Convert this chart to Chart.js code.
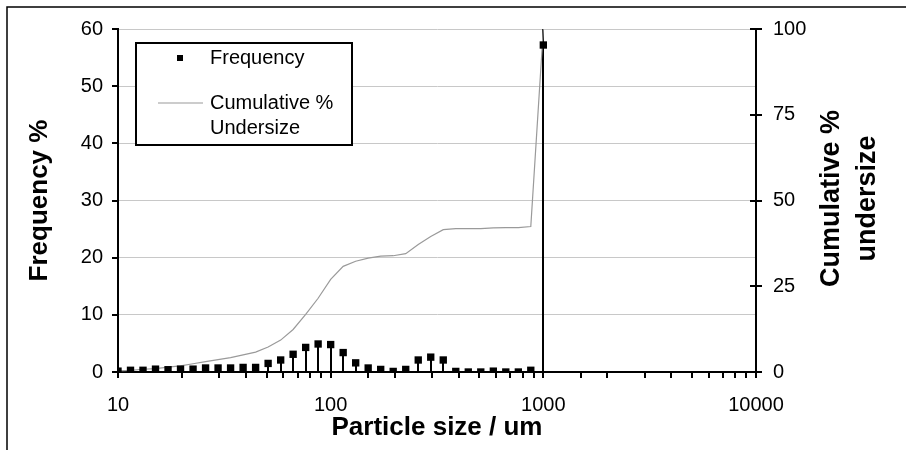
<!DOCTYPE html>
<html><head><meta charset="utf-8">
<script src="https://cdn.jsdelivr.net/npm/chart.js@4/dist/chart.umd.min.js"></script>
<style>html,body{margin:0;padding:0;background:#fff;}#wrap{width:906px;height:450px;}</style>
</head><body><div id="wrap"><canvas id="c" width="906" height="450"></canvas></div>
<script>
// ---- data ----
const particleSizes = [10.0, 11.45, 13.11, 15.01, 17.19, 19.68, 22.54, 25.81, 29.55, 33.84, 38.75, 44.37, 50.8, 58.2, 66.6, 76.3, 87.3, 100, 114.5, 131.1, 150.1, 171.9, 196.8, 225.4, 258.1, 295.5, 338.4, 387.5, 443.7, 508, 582, 666, 763, 873, 1000];
const frequencyPct = [0.15, 0.3, 0.3, 0.5, 0.4, 0.5, 0.5, 0.7, 0.7, 0.7, 0.8, 0.8, 1.5, 2.1, 3.1, 4.3, 4.9, 4.8, 3.4, 1.6, 0.7, 0.45, 0.1, 0.45, 2.1, 2.6, 2.1, 0.1, 0.0, 0.0, 0.15, 0.0, 0.0, 0.3, 57.2];
const cumulativePct = [0.3, 0.5, 0.8, 1.0, 1.4, 1.8, 2.4, 3.0, 3.6, 4.2, 5.0, 5.8, 7.3, 9.3, 12.4, 16.8, 21.5, 27.0, 30.8, 32.3, 33.2, 33.8, 33.9, 34.5, 37.2, 39.5, 41.5, 41.8, 41.8, 41.8, 42.0, 42.1, 42.1, 42.4, 100];
const fullHeightDropAt = [1000];
const xTickLabels = [10, 100, 1000, 10000];
const seriesNames = ['Frequency', ['Cumulative %', 'Undersize']];
const axisTitles = { x: 'Particle size / um', y: 'Frequency %', y2: ['Cumulative %', 'undersize'] };

const FONT = '"Liberation Sans", Arial, Helvetica, sans-serif';

const decor = {
  id: 'decor',
  beforeDraw(chart) {
    const ctx = chart.ctx;
    ctx.save();
    ctx.fillStyle = '#fff';
    ctx.fillRect(0, 0, chart.width, chart.height);
    ctx.restore();
  },
  beforeDatasetsDraw(chart) {
    const ctx = chart.ctx;
    const xs = chart.scales.x, ys = chart.scales.y;
    const meta = chart.getDatasetMeta(0);
    const y0 = ys.getPixelForValue(0);
    ctx.save();
    ctx.strokeStyle = '#000';
    ctx.lineWidth = 2;
    meta.data.forEach(p => {
      ctx.beginPath();
      ctx.moveTo(Math.round(p.x), p.y);
      ctx.lineTo(Math.round(p.x), y0);
      ctx.stroke();
    });
    fullHeightDropAt.forEach(v => {
      const px = Math.round(xs.getPixelForValue(v));
      ctx.beginPath();
      ctx.moveTo(px, ys.getPixelForValue(ys.max));
      ctx.lineTo(px, y0);
      ctx.stroke();
    });
    ctx.restore();
  },
  afterDraw(chart) {
    const ctx = chart.ctx;
    const {left, right, top, bottom} = chart.chartArea;
    const xs = chart.scales.x, ys = chart.scales.y, y2 = chart.scales.y2;
    ctx.save();
    // outer frame (partially cropped in reference)
    ctx.strokeStyle = '#000';
    ctx.lineWidth = 1.5;
    ctx.beginPath();
    ctx.moveTo(7, chart.height);
    ctx.lineTo(7, 7);
    ctx.lineTo(chart.width, 7);
    ctx.stroke();

    // tick marks
    ctx.lineWidth = 2;
    ys.ticks.forEach(t => {
      const py = Math.round(ys.getPixelForValue(t.value));
      ctx.beginPath(); ctx.moveTo(left - 6, py); ctx.lineTo(left, py); ctx.stroke();
    });
    y2.ticks.forEach(t => {
      const py = Math.round(y2.getPixelForValue(t.value));
      ctx.beginPath(); ctx.moveTo(right - 6, py); ctx.lineTo(right + 6, py); ctx.stroke();
    });
    xs.ticks.forEach(t => {
      const px = Math.round(xs.getPixelForValue(t.value));
      const lg = Math.log10(t.value);
      const major = Math.abs(lg - Math.round(lg)) < 1e-9;
      ctx.beginPath();
      ctx.moveTo(px, major ? bottom - 6 : bottom);
      ctx.lineTo(px, bottom + 6);
      ctx.stroke();
    });

    // axis titles
    ctx.fillStyle = '#000';
    ctx.textAlign = 'center';
    ctx.textBaseline = 'middle';
    ctx.font = 'bold 26px ' + FONT;
    ctx.fillText(axisTitles.x, (left + right) / 2, 428);
    const midY = (top + bottom) / 2;
    ctx.save();
    ctx.translate(40, midY);
    ctx.rotate(-Math.PI / 2);
    ctx.font = 'bold 26px ' + FONT;
    ctx.fillText(axisTitles.y, 0, 0);
    ctx.restore();
    ctx.save();
    ctx.translate(850, midY - 2);
    ctx.rotate(-Math.PI / 2);
    ctx.font = 'bold 27px ' + FONT;
    ctx.fillText(axisTitles.y2[0], 0, -18);
    ctx.fillText(axisTitles.y2[1], 0, 18);
    ctx.restore();

    // legend
    const bx = 136, by = 43, bw = 216, bh = 102;
    ctx.fillStyle = '#fff';
    ctx.fillRect(bx, by, bw, bh);
    ctx.strokeStyle = '#000';
    ctx.lineWidth = 2;
    ctx.strokeRect(bx, by, bw, bh);
    ctx.fillStyle = '#000';
    ctx.fillRect(177, 55, 6, 6);
    ctx.strokeStyle = '#999';
    ctx.lineWidth = 1.2;
    ctx.beginPath(); ctx.moveTo(158, 103); ctx.lineTo(203, 103); ctx.stroke();
    ctx.font = '20px ' + FONT;
    ctx.textAlign = 'left';
    ctx.fillStyle = '#000';
    ctx.fillText(seriesNames[0], 210, 58);
    ctx.fillText(seriesNames[1][0], 210, 103);
    ctx.fillText(seriesNames[1][1], 210, 128);
    ctx.restore();
  }
};

new Chart(document.getElementById('c'), {
  type: 'line',
  data: {
    datasets: [
      {
        label: 'Frequency',
        data: particleSizes.map((s, i) => ({x: s, y: frequencyPct[i]})),
        yAxisID: 'y',
        showLine: false,
        pointStyle: 'rect',
        pointRadius: 5.2,
        pointBackgroundColor: '#000',
        pointBorderColor: '#000',
        pointBorderWidth: 0
      },
      {
        label: 'Cumulative % Undersize',
        data: particleSizes.map((s, i) => ({x: s, y: cumulativePct[i]})),
        yAxisID: 'y2',
        borderColor: '#9a9a9a',
        borderWidth: 1.2,
        pointRadius: 0,
        tension: 0,
        fill: false
      }
    ]
  },
  options: {
    responsive: false,
    animation: false,
    devicePixelRatio: 1,
    layout: { padding: { top: 29, left: 0, right: 0, bottom: 0 } },
    plugins: { legend: { display: false }, tooltip: { enabled: false } },
    scales: {
      x: {
        type: 'logarithmic',
        position: 'bottom',
        min: 10, max: 10000,
        afterFit(s) { s.height = 78; },
        grid: { display: false, drawTicks: false },
        border: { display: true, color: '#000', width: 2 },
        ticks: {
          autoSkip: false, maxRotation: 0, minRotation: 0, padding: 21,
          color: '#000', font: { size: 20, family: FONT },
          callback: (v) => xTickLabels.includes(Number(v)) ? String(v) : ''
        }
      },
      y: {
        position: 'left',
        min: 0, max: 60,
        afterFit(s) { s.width = 118; },
        grid: { color: '#c8c8c8', lineWidth: 1, drawTicks: false },
        border: { display: true, color: '#000', width: 2 },
        ticks: { stepSize: 10, padding: 15, color: '#000', font: { size: 20, family: FONT } }
      },
      y2: {
        position: 'right',
        min: 0, max: 100,
        afterFit(s) { s.width = 150; },
        grid: { drawOnChartArea: false, drawTicks: false },
        border: { display: true, color: '#000', width: 2 },
        ticks: { stepSize: 25, padding: 17, color: '#000', font: { size: 20, family: FONT } }
      }
    }
  },
  plugins: [decor]
});
</script>
</body></html>
